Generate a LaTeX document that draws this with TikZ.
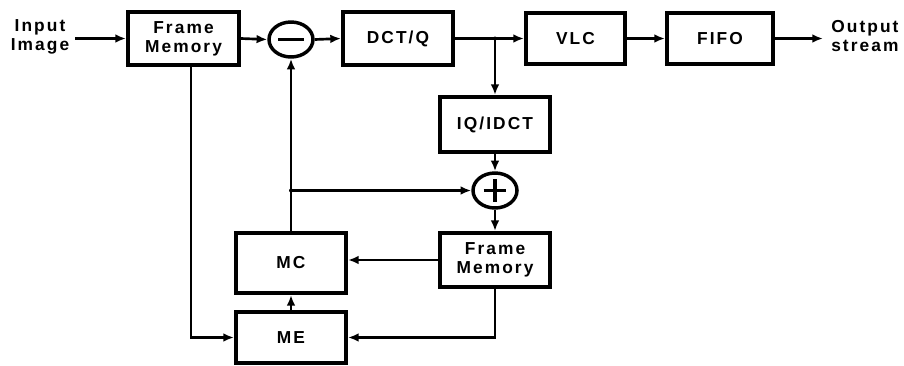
\documentclass[tikz,border=0pt]{standalone}
\usepackage{fontspec}
\newfontfamily\blockfont[LetterSpace=12]{Liberation Sans}
\usetikzlibrary{shapes.geometric, arrows, arrows.meta}
\tikzstyle{arrow} = [line width=2pt,->,>={Latex[length=8pt,width=6.5pt]}]
\tikzstyle{block} = [draw, line width=3pt, inner sep=0pt, align=center, font=\blockfont\bfseries\fontsize{13pt}{14.5pt}\selectfont]
\tikzstyle{txt} = [inner sep=0pt, align=center, font=\blockfont\bfseries\fontsize{13pt}{14.5pt}\selectfont]
\tikzstyle{summer} = [draw, ellipse, line width=2.6pt, inner sep=0pt, minimum width=33pt, minimum height=26.25pt]

\begin{document}
\begin{tikzpicture}[x=0.75pt,y=0.75pt,yscale=-1,xscale=1]
\useasboundingbox (0,0) rectangle (904,365);

% Top row
\node (input) [txt] at (40,37) {Input\\Image};
\node (fm1) [block, minimum width=83.25pt, minimum height=39.75pt] at (183.5,38.5) {Frame\\Memory};
\node (minus) [summer] at (291,39.5) {};
\node (dct) [block, minimum width=82.5pt, minimum height=39.75pt] at (398,38.5) {DCT/Q};
\node (vlc) [block, minimum width=74.25pt, minimum height=38.25pt] at (575.5,38.5) {VLC};
\node (fifo) [block, minimum width=79.5pt, minimum height=38.25pt] at (720,38.5) {FIFO};
\node (output) [txt, anchor=west] at (831,36) {Output\\stream};

% Reconstruction loop
\node (iqidct) [block, minimum width=82.5pt, minimum height=41.25pt] at (495,124.5) {IQ/IDCT};
\node (plus) [summer] at (495,190.5) {};
\node (fm2) [block, minimum width=82.5pt, minimum height=40.5pt] at (495,260) {Frame\\Memory};
\node (mc) [block, minimum width=82.5pt, minimum height=45pt] at (291,263) {MC};
\node (me) [block, minimum width=82.5pt, minimum height=38.25pt] at (291,337.5) {ME};

% Signs
\draw [line width=2.6pt] ([xshift=-9.4pt]minus.center) -- ([xshift=9.4pt]minus.center);
\draw [line width=2.6pt] ([xshift=-8.6pt]plus.center) -- ([xshift=8.6pt]plus.center);
\draw [line width=2.6pt] ([yshift=-8.6pt]plus.center) -- ([yshift=8.6pt]plus.center);

% Junctions
\coordinate (j1) at (iqidct.north |- dct.east);
\coordinate (j2) at (mc.north |- plus.west);
\fill (j1) circle (2);
\fill (j2) circle (2);

% Connectors
\draw [arrow] (input.east |- fm1.west) ++(6,0) -- (fm1.west);
\draw [arrow] (fm1.east) -- (minus.west);
\draw [arrow] (minus.east) -- (dct.west);
\draw [arrow] (dct.east) -- (vlc.west);
\draw [arrow] (vlc.east) -- (fifo.west);
\draw [arrow] (fifo.east) -- ([xshift=-6]output.west |- fifo.east);
\draw [arrow] (j1) -- (iqidct.north);
\draw [arrow] (iqidct.south) -- (plus.north);
\draw [arrow] (plus.south) -- (fm2.north);
\draw [arrow] (fm2.west) -- (fm2.west -| mc.east);
\draw [arrow] (fm2.south) |- (me.east);
\draw [arrow] ([xshift=5.5]fm1.south) |- (me.west);
\draw [arrow] (me.north) -- (mc.south);
\draw [arrow] (mc.north) -- (minus.south);
\draw [arrow] (j2) -- (plus.west);

\end{tikzpicture}
\end{document}
